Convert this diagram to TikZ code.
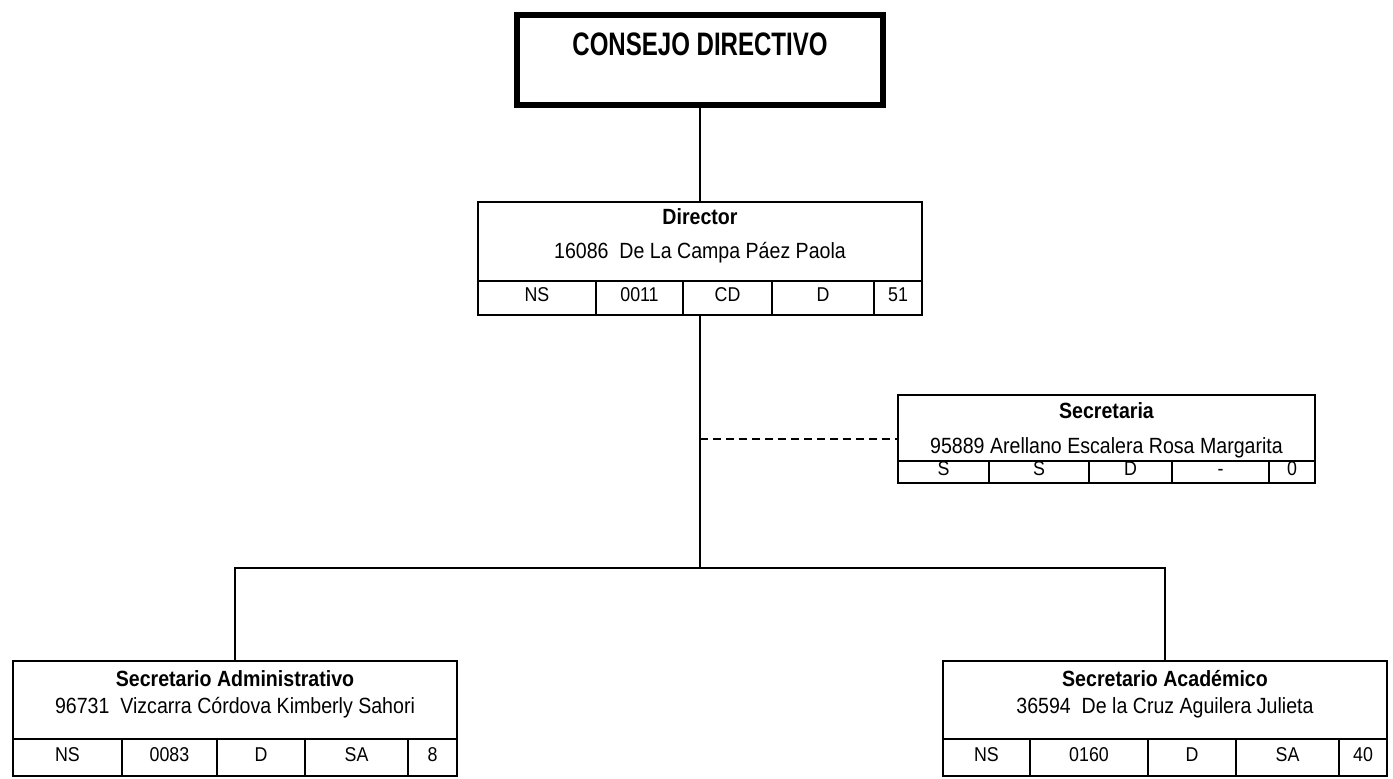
\documentclass[tikz,border=0pt]{standalone}
\usepackage{fontspec}
\setmainfont{Liberation Sans}[FakeStretch=0.89]
\newfontfamily\titlefont{Liberation Sans}[FakeStretch=0.74]
\usetikzlibrary{positioning}
\tikzset{
    councilbox/.style={draw, line width=6pt, minimum width=366pt, minimum height=90pt, inner sep=0pt},
    personbox/.style={draw, line width=2pt, minimum width=444pt, inner sep=0pt},
    cell/.style={draw, line width=1.5pt, inner sep=0pt, text height=0.72em, text depth=0pt, font=\fontsize{20}{22}\selectfont},
    roletext/.style={inner sep=0pt, font=\bfseries\fontsize{22}{25}\selectfont},
    nametext/.style={inner sep=0pt, font=\fontsize{22}{25}\selectfont},
    link/.style={line width=1.4pt},
    assistline/.style={line width=1.4pt, dash pattern=on 8pt off 5pt}
}

\begin{document}
\begin{tikzpicture}[x=1pt,y=-1pt]
    \useasboundingbox (0,0) rectangle (1393,779);
    % consejo
    \node[councilbox] (consejo) at (700,60) {};
    \node[inner sep=0pt, font=\titlefont\bfseries\fontsize{32.5}{36}\selectfont] (consejotxt) at (700,44) {CONSEJO DIRECTIVO};
    % director
    \foreach \cx/\cw/\ct [count=\i] in {537/118/NS, 639.5/87/0011, 727.5/89/CD, 823/102/D, 898/48/51}
        \node[cell, minimum width=\cw, minimum height=34] (dir\i) at (\cx,298) {\ct};
    \node[personbox, minimum height=113] (dir) at (700,258.5) {};
    \node[roletext] (dirrole) at (700,217) {Director};
    \node[nametext] (dirname) at (700,253) {16086\ \ De La Campa Páez Paola};
    % secretaria
    \foreach \cx/\cw/\ct [count=\i] in {943.5/91/S, 1039/100/S, 1130.5/83/D, 1220.5/97/-, 1292/46/0}
        \node[cell, minimum width=\cw, minimum height=22] (sec\i) at (\cx,472) {\ct};
    \node[personbox, minimum width=417, minimum height=88] (sec) at (1106.5,439) {};
    \node[roletext] (secrole) at (1106.5,411) {Secretaria};
    \node[nametext] (secname) at (1106.5,448) {95889 Arellano Escalera Rosa Margarita};
    % secretario administrativo
    \foreach \cx/\cw/\ct [count=\i] in {67.5/109/NS, 169.5/95/0083, 261/88/D, 356.5/103/SA, 432.5/49/8}
        \node[cell, minimum width=\cw, minimum height=37] (adm\i) at (\cx,757.5) {\ct};
    \node[personbox, minimum height=115] (adm) at (235,718.5) {};
    \node[roletext] (admrole) at (235,679) {Secretario Administrativo};
    \node[nametext] (admname) at (235,708) {96731\ \ Vizcarra Córdova Kimberly Sahori};
    % secretario academico
    \foreach \cx/\cw/\ct [count=\i] in {986.5/87/NS, 1089/118/0160, 1192/88/D, 1287.5/103/SA, 1363/48/40}
        \node[cell, minimum width=\cw, minimum height=37] (acad\i) at (\cx,757.5) {\ct};
    \node[personbox, minimum height=115] (acad) at (1165,718.5) {};
    \node[roletext] (acadrole) at (1165,679) {Secretario Académico};
    \node[nametext] (acadname) at (1165,708) {36594\ \ De la Cruz Aguilera Julieta};
    % lines
    \coordinate (bar) at (700,568);
    \coordinate (barL) at (235,568);
    \coordinate (barR) at (1165,568);
    \coordinate (secbranch) at (700,439);
    \draw[link] (consejo.south) -- (dir.north);
    \draw[link] (dir.south) -- (bar);
    \draw[link] (adm.north) -- (barL) -- (barR) -- (acad.north);
    \draw[assistline] (secbranch) -- (sec.west);
\end{tikzpicture}
\end{document}
